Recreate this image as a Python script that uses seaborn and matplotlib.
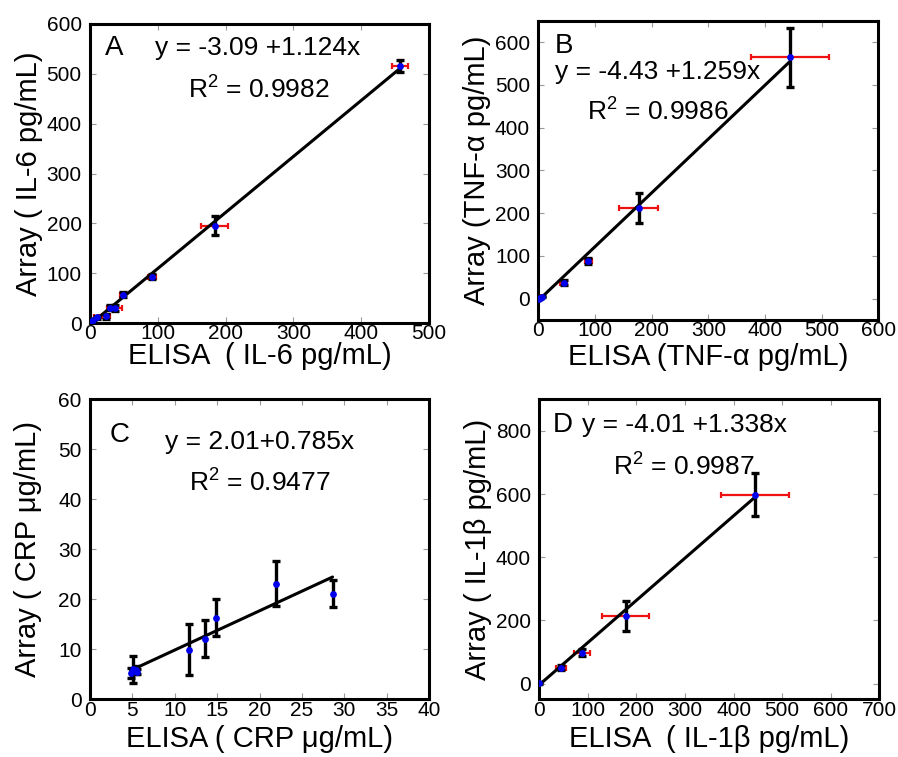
import numpy as np
import pandas as pd
import matplotlib
matplotlib.use("Agg")
import matplotlib.pyplot as plt
import seaborn as sns

# ---- IL-6 ----
il6_elisa = [2, 5, 10, 24, 30, 37, 48, 92, 184, 457]
il6_array = [2, 6, 12, 14, 31, 31, 57, 93, 195, 516]
il6_xerr = [2, 3, 4, 6, 5, 10, 4, 6, 20, 12]
il6_yerr = [2, 3, 3, 5, 5, 6, 5, 5, 19, 12]
il6_fit = (-3.09, 1.124, 0.9982)

# ---- TNF-alpha ----
tnf_elisa = [1, 3, 6, 45, 88, 177, 444]
tnf_array = [0, 2, 4, 37, 88, 212, 564]
tnf_xerr = [1, 1, 1, 6, 6, 35, 69]
tnf_yerr = [1, 1, 1, 6, 6, 35, 70]
tnf_fit = (-4.43, 1.259, 0.9986)

# ---- CRP ----
crp_elisa = [4.8, 5.1, 5.4, 5.6, 11.7, 13.6, 14.8, 21.9, 28.6]
crp_array = [5.3, 6.0, 5.8, 5.5, 9.9, 12.1, 16.3, 23.1, 21.1]
crp_xerr = [0, 0, 0, 0, 0, 0, 0, 0, 0]
crp_yerr = [1.0, 2.7, 0.8, 0.5, 5.1, 3.7, 3.7, 4.5, 2.7]
crp_fit = (2.01, 0.785, 0.9477)

# ---- IL-1beta ----
il1b_elisa = [0, 45, 88, 178, 445]
il1b_array = [2, 50, 98, 213, 598]
il1b_xerr = [2, 10, 16, 48, 70]
il1b_yerr = [2, 8, 12, 48, 69]
il1b_fit = (-4.01, 1.338, 0.9987)

sns.set_theme(style="ticks")
plt.rcParams["font.family"] = ["Liberation Sans", "DejaVu Sans"]
plt.rcParams["mathtext.fontset"] = "custom"
plt.rcParams["mathtext.rm"] = "Liberation Sans"
plt.rcParams["mathtext.default"] = "regular"
plt.rcParams["text.color"] = "black"
plt.rcParams["axes.labelcolor"] = "black"

fig = plt.figure(figsize=(8.98, 7.57), dpi=100)

panels = [
    dict(rect=[0.1002, 0.5733, 0.3775, 0.3950], x=il6_elisa, y=il6_array,
         xerr=il6_xerr, yerr=il6_yerr, fit=il6_fit, xlim=(0, 500), ylim=(0, 600),
         xticks=np.arange(0, 501, 100), yticks=np.arange(0, 601, 100),
         xlabel="ELISA  ( IL-6 pg/mL)", ylabel="Array ( IL-6 pg/mL)",
         letter="A", letter_pos=(0.045, 0.92),
         eq="y = -3.09 +1.124x", eq_pos=(0.192, 0.92),
         r2_pos=(0.29, 0.779), xlab_y=-0.064),
    dict(rect=[0.5995, 0.5773, 0.3786, 0.3954], x=tnf_elisa, y=tnf_array,
         xerr=tnf_xerr, yerr=tnf_yerr, fit=tnf_fit, xlim=(0, 600), ylim=(-50, 650),
         xticks=np.arange(0, 601, 100), yticks=np.arange(0, 601, 100),
         xlabel="ELISA (TNF-α pg/mL)", ylabel="Array (TNF-α pg/mL)",
         letter="B", letter_pos=(0.049, 0.915),
         eq="y = -4.43 +1.259x", eq_pos=(0.049, 0.828),
         r2_pos=(0.144, 0.696), xlab_y=-0.078),
    dict(rect=[0.1002, 0.0762, 0.3778, 0.3963], x=crp_elisa, y=crp_array,
         xerr=crp_xerr, yerr=crp_yerr, fit=crp_fit, xlim=(0, 40), ylim=(0, 60),
         xticks=np.arange(0, 41, 5), yticks=np.arange(0, 61, 10),
         xlabel="ELISA ( CRP μg/mL)", ylabel="Array ( CRP μg/mL)",
         letter="C", letter_pos=(0.057, 0.881),
         eq="y = 2.01+0.785x", eq_pos=(0.221, 0.859),
         r2_pos=(0.293, 0.722), xlab_y=-0.084),
    dict(rect=[0.6006, 0.0762, 0.3786, 0.3963], x=il1b_elisa, y=il1b_array,
         xerr=il1b_xerr, yerr=il1b_yerr, fit=il1b_fit, xlim=(0, 700), ylim=(-50, 900),
         xticks=np.arange(0, 701, 100), yticks=np.arange(0, 801, 200),
         xlabel="ELISA  ( IL-1β pg/mL)", ylabel="Array ( IL-1β pg/mL)",
         letter="D", letter_pos=(0.039, 0.914),
         eq="y = -4.01 +1.338x", eq_pos=(0.125, 0.914),
         r2_pos=(0.218, 0.773), xlab_y=-0.084),
]

for p in panels:
    ax = fig.add_axes(p["rect"])
    df = pd.DataFrame({"elisa": p["x"], "array": p["y"],
                       "xerr": p["xerr"], "yerr": p["yerr"]})

    # error bars: ELISA spread in red, array spread in black
    ax.errorbar(df["elisa"], df["array"], xerr=df["xerr"], fmt="none",
                ecolor="#ee1111", elinewidth=1.6, capsize=2.5, capthick=1.6, zorder=2)
    ax.errorbar(df["elisa"], df["array"], yerr=df["yerr"], fmt="none",
                ecolor="black", elinewidth=2.4, capsize=3, capthick=2.4, zorder=3)

    # regression line from the reported intercept and slope
    b0, b1, r2 = p["fit"]
    xs = np.array([df["elisa"].min(), df["elisa"].max()])
    fit_df = pd.DataFrame({"elisa": xs, "array": b0 + b1 * xs})
    sns.lineplot(data=fit_df, x="elisa", y="array", ax=ax, color="black",
                 linewidth=2.2, zorder=4)

    sns.scatterplot(data=df, x="elisa", y="array", ax=ax, color="#0000ee",
                    s=24, linewidth=0, zorder=5)

    ax.set_xlim(*p["xlim"])
    ax.set_ylim(*p["ylim"])
    ax.set_xticks(p["xticks"])
    ax.set_yticks(p["yticks"])
    ax.tick_params(axis="both", direction="in", length=4, width=0.8,
                   color="#999999", labelsize=15, labelcolor="black",
                   top=True, right=True)
    ax.tick_params(axis="x", pad=1)
    ax.tick_params(axis="y", pad=6)
    for s in ax.spines.values():
        s.set_linewidth(2.2)
        s.set_color("black")
        s.set_visible(True)

    ax.set_xlabel(p["xlabel"], fontsize=21)
    ax.set_ylabel(p["ylabel"], fontsize=21)
    ax.xaxis.set_label_coords(0.5, p["xlab_y"])
    ax.yaxis.set_label_coords(-0.14, 0.5)

    ax.text(*p["letter_pos"], p["letter"], transform=ax.transAxes,
            fontsize=20, va="center", ha="left")
    ax.text(*p["eq_pos"], p["eq"], transform=ax.transAxes,
            fontsize=19, va="center", ha="left")
    ax.text(*p["r2_pos"], r"R$^{2}$ = %.4f" % r2, transform=ax.transAxes,
            fontsize=19, va="center", ha="left")

fig.savefig("out.png", dpi=100)
